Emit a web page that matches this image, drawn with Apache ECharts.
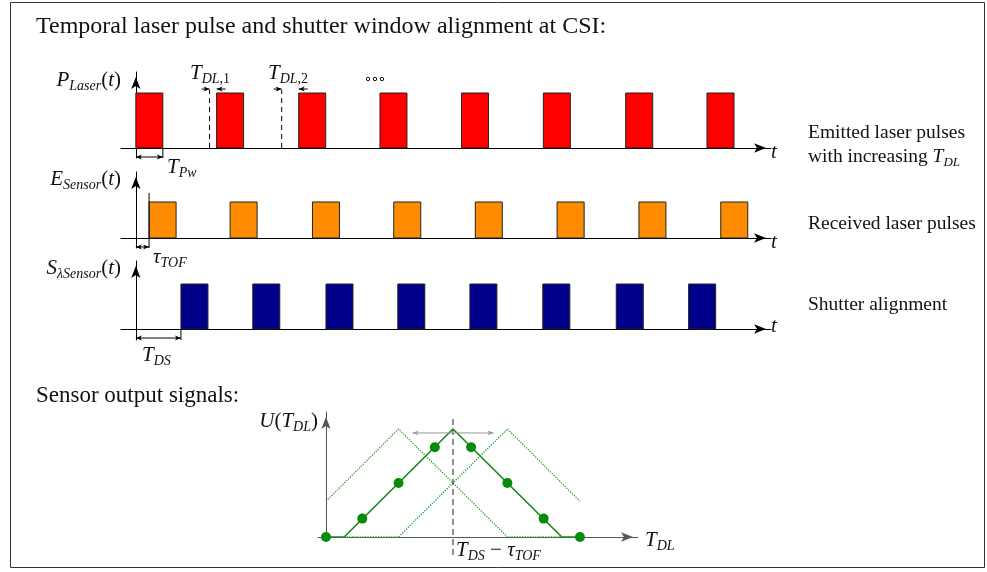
<!DOCTYPE html>
<html><head><meta charset="utf-8">
<script src="https://cdn.jsdelivr.net/npm/echarts@6/dist/echarts.min.js"></script>
<style>html,body{margin:0;padding:0;background:#fff}#c{width:987px;height:572px}</style>
</head><body><div id="c"></div>
<script>
// ---------- data ----------
const PULSE_WIDTH = 10;
const laserStarts    = [0, 29.9, 60.3, 90.4, 120.6, 150.9, 181.4, 211.5];
const receivedStarts = [4.9, 34.9, 65.4, 95.5, 125.7, 156.0, 186.3, 216.6];
const shutterStarts  = [16.7, 43.3, 70.4, 97.0, 123.7, 150.7, 177.9, 204.7];
const delayReferences = [27.3, 54.0];
const TAU_TOF = 4.9;
const T_DS = 16.7;

const tdlSamples   = [0, 1, 2, 3, 4, 5, 6, 7];
const outputValues = [0, 0.17, 0.5, 0.83, 0.83, 0.5, 0.17, 0];
const outputCurveT = [0, 0.5, 3.5, 6.5, 7];
const outputCurveU = [0, 0, 1, 0, 0];
const earlyCurveT  = [0, 2, 5, 6.5];
const earlyCurveU  = [0.33, 1, 0, 0];
const lateCurveT   = [0.5, 2, 5, 7];
const lateCurveU   = [0, 0, 1, 0.33];
const PEAK_T = 3.5;
const SHIFT_SPAN = 1.12;

// ---------- helpers ----------
const SERIF = '"Liberation Serif", "DejaVu Serif", serif';
const chart = echarts.init(document.getElementById('c'), null, {renderer: 'canvas'});

function seg(a, b, style) {
  return {type: 'line', shape: {x1: a[0], y1: a[1], x2: b[0], y2: b[1]},
          style: Object.assign({stroke: '#000', lineWidth: 1}, style || {})};
}
function head(tip, from, color, len, half) {
  len = len || 6; half = half || 2.4;
  const dx = tip[0] - from[0], dy = tip[1] - from[1];
  const L = Math.hypot(dx, dy) || 1, ux = dx / L, uy = dy / L;
  const bx = tip[0] - ux * len, by = tip[1] - uy * len;
  const nx = tip[0] - ux * len * 0.75, ny = tip[1] - uy * len * 0.75;
  return {type: 'polygon', shape: {points: [tip, [bx - uy * half, by + ux * half], [nx, ny], [bx + uy * half, by - ux * half]]},
          style: {fill: color || '#000'}};
}
function arrow(a, b, color) { return [seg(a, b, {stroke: color || '#000'}), head(b, a, color)]; }
function dbl(a, b, color) { return [seg(a, b, {stroke: color || '#000'}), head(b, a, color), head(a, b, color)]; }

function xAx(gi, min, max, color) {
  return {gridIndex: gi, type: 'value', min: min, max: max,
    axisLine: {onZero: true, lineStyle: {color: color, width: 1}, symbol: ['none', 'arrow'], symbolSize: [7, 12], symbolOffset: [0, -5]},
    axisTick: {show: false}, axisLabel: {show: false}, splitLine: {show: false}};
}
function yAx(gi, min, max, color) {
  return {gridIndex: gi, type: 'value', min: min, max: max,
    axisLine: {onZero: true, lineStyle: {color: color, width: 1}, symbol: ['none', 'arrow'], symbolSize: [7, 12], symbolOffset: [0, -5]},
    axisTick: {show: false}, axisLabel: {show: false}, splitLine: {show: false}};
}
function pulseSeries(gi, starts, color) {
  return {type: 'custom', xAxisIndex: gi, yAxisIndex: gi, silent: true, animation: false,
    data: starts.map(s => [s, s + PULSE_WIDTH, 1]),
    renderItem: (params, api) => {
      const p0 = api.coord([api.value(0), api.value(2)]);
      const p1 = api.coord([api.value(1), 0]);
      return {type: 'rect', shape: {x: p0[0], y: p0[1], width: p1[0] - p0[0], height: p1[1] - p0[1]},
              style: {fill: color, stroke: '#222', lineWidth: 1}};
    }};
}
function annot(gi, build) {
  return {type: 'custom', xAxisIndex: gi, yAxisIndex: gi, silent: true, animation: false, z: 5,
    data: [[0, 0]], renderItem: (params, api) => ({type: 'group', children: build(api)})};
}

// ---------- text ----------
const rich = {
  rm:  {fontFamily: SERIF, fontSize: 21, fill: '#111'},
  it:  {fontFamily: SERIF, fontSize: 21, fontStyle: 'italic', fill: '#111'},
  sub: {fontFamily: SERIF, fontSize: 14, fontStyle: 'italic', fill: '#111', padding: [12, 0, 0, 0]},
  subrm: {fontFamily: SERIF, fontSize: 14, fill: '#111', padding: [12, 0, 0, 0]},
  big: {fontFamily: SERIF, fontSize: 24, fill: '#111'},
  big2: {fontFamily: SERIF, fontSize: 23, fill: '#111'},
  mid: {fontFamily: SERIF, fontSize: 19.5, fill: '#111'},
  midit: {fontFamily: SERIF, fontSize: 19.5, fontStyle: 'italic', fill: '#111'},
  midsub: {fontFamily: SERIF, fontSize: 13, fontStyle: 'italic', fill: '#111', padding: [11, 0, 0, 0]}
};
function txt(x, y, text, align) {
  return {type: 'text', silent: true, z: 10,
    style: {x: x, y: y, text: text, rich: rich, align: align || 'left', verticalAlign: 'middle'}};
}

const graphics = [
  {type: 'rect', silent: true, shape: {x: 10.5, y: 2.5, width: 974, height: 565},
   style: {fill: 'none', stroke: '#333', lineWidth: 1}},
  txt(36, 27, '{big|Temporal laser pulse and shutter window alignment at CSI:}'),
  txt(121, 80, '{it|P}{sub|Laser}{rm|(}{it|t}{rm|)}', 'right'),
  txt(190, 73, '{it|T}{sub|DL}{subrm|,1}'),
  txt(268, 73, '{it|T}{sub|DL}{subrm|,2}'),
  txt(167, 167, '{it|T}{sub|Pw}'),
  txt(121, 179, '{it|E}{sub|Sensor}{rm|(}{it|t}{rm|)}', 'right'),
  txt(153, 257, '{it|τ}{sub|TOF}'),
  txt(121, 268, '{it|S}{sub|λSensor}{rm|(}{it|t}{rm|)}', 'right'),
  txt(142, 355, '{it|T}{sub|DS}'),
  txt(771, 152, '{it|t}'),
  txt(771, 242, '{it|t}'),
  txt(771, 326, '{it|t}'),
  txt(808, 133, '{mid|Emitted laser pulses}'),
  txt(808, 157, '{mid|with increasing }{midit|T}{midsub|DL}'),
  txt(808, 224, '{mid|Received laser pulses}'),
  txt(808, 305, '{mid|Shutter alignment}'),
  txt(36, 396, '{big2|Sensor output signals:}'),
  txt(318, 421, '{it|U}{rm|(}{it|T}{sub|DL}{rm|)}', 'right'),
  txt(645, 540, '{it|T}{sub|DL}'),
  txt(456, 550, '{it|T}{sub|DS}{rm| − }{it|τ}{sub|TOF}')
];
[368, 375, 382].forEach(x => graphics.push({type: 'circle', silent: true, shape: {cx: x, cy: 79, r: 1.7},
  style: {fill: 'none', stroke: '#111', lineWidth: 1}}));

// ---------- option ----------
const option = {
  animation: false,
  backgroundColor: '#fff',
  grid: [
    {left: 121, right: 216, top: 72, height: 86, outerBoundsMode: 'none'},
    {left: 121, right: 216, top: 172, height: 76, outerBoundsMode: 'none'},
    {left: 121, right: 216, top: 261, height: 79, outerBoundsMode: 'none'},
    {left: 318, right: 349, top: 412, height: 128, outerBoundsMode: 'none'}
  ],
  xAxis: [
    xAx(0, -5.5, 235.2, '#000'),
    xAx(1, -5.5, 235.2, '#000'),
    xAx(2, -5.5, 235.2, '#000'),
    xAx(3, -0.22, 8.6, '#555')
  ],
  yAxis: [
    yAx(0, -0.182, 1.382, '#000'),
    yAx(1, -0.278, 1.833, '#000'),
    yAx(2, -0.244, 1.511, '#000'),
    yAx(3, -0.028, 1.157, '#555')
  ],
  graphic: graphics,
  series: [
    pulseSeries(0, laserStarts, '#ff0000'),
    pulseSeries(1, receivedStarts, '#ff8c00'),
    pulseSeries(2, shutterStarts, '#00008b'),
    annot(0, api => {
      const out = [];
      const o = api.coord([0, 0]);
      const w = api.coord([PULSE_WIDTH, 0]);
      out.push(seg([w[0], w[1]], [w[0], w[1] + 10]));
      out.push(...dbl([o[0], o[1] + 9], [w[0], w[1] + 9]));
      delayReferences.forEach((r, i) => {
        const b = api.coord([r, 0]), t = api.coord([r, 1]);
        out.push(seg([b[0], b[1]], [b[0], t[1] - 3], {lineDash: [5, 4]}));
        const p = api.coord([laserStarts[i + 1], 1]);
        const y = t[1] - 4;
        out.push(...arrow([b[0] - 8, y], [b[0], y]));
        out.push(...arrow([p[0] + 9, y], [p[0], y]));
      });
      return out;
    }),
    annot(1, api => {
      const o = api.coord([0, 0]);
      const r = api.coord([TAU_TOF, 0]), rt = api.coord([TAU_TOF, 1]);
      return [seg([r[0], r[1] + 10], [r[0], rt[1] - 9])].concat(dbl([o[0], o[1] + 9], [r[0], r[1] + 9]));
    }),
    annot(2, api => {
      const o = api.coord([0, 0]);
      const d = api.coord([T_DS, 0]);
      return [seg([d[0], d[1]], [d[0], d[1] + 11])].concat(dbl([o[0], o[1] + 9], [d[0], d[1] + 9]));
    }),
    {type: 'line', xAxisIndex: 3, yAxisIndex: 3, silent: true, showSymbol: false, z: 2,
     data: earlyCurveT.map((t, i) => [t, earlyCurveU[i]]),
     lineStyle: {color: '#2a9e2a', width: 1.3, type: 'dotted'}},
    {type: 'line', xAxisIndex: 3, yAxisIndex: 3, silent: true, showSymbol: false, z: 2,
     data: lateCurveT.map((t, i) => [t, lateCurveU[i]]),
     lineStyle: {color: '#2a9e2a', width: 1.3, type: 'dotted'}},
    {type: 'line', xAxisIndex: 3, yAxisIndex: 3, silent: true, showSymbol: false, z: 3,
     data: outputCurveT.map((t, i) => [t, outputCurveU[i]]),
     lineStyle: {color: '#138a13', width: 1.6}},
    annot(3, api => {
      const p = api.coord([PEAK_T, 1]), b = api.coord([PEAK_T, 0]);
      const out = [seg([b[0], b[1] + 18], [b[0], p[1] - 11], {stroke: '#555', lineDash: [6, 4], lineWidth: 1.3})];
      const l = api.coord([PEAK_T - SHIFT_SPAN, 1]), r = api.coord([PEAK_T + SHIFT_SPAN, 1]);
      out.push(...dbl([l[0], l[1] + 4], [r[0], r[1] + 4], '#999'));
      return out;
    }),
    {type: 'scatter', xAxisIndex: 3, yAxisIndex: 3, silent: true, z: 6,
     symbol: 'circle', symbolSize: 10, itemStyle: {color: '#0a8a0a', opacity: 1},
     data: tdlSamples.map((t, i) => [t, outputValues[i]])}
  ]
};
chart.setOption(option);
</script>
</body></html>
